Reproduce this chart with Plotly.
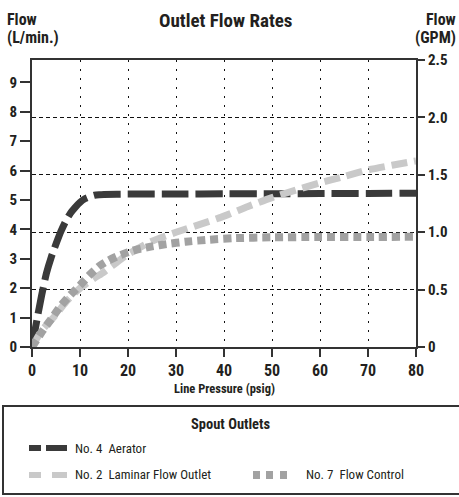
import plotly.graph_objects as go

# ---------------- data (L/min vs psig) ----------------
aerator_psig = [0, 0.5, 1, 2, 3, 4, 5, 6, 7, 8, 9, 10, 11, 12, 13, 14, 15, 20, 30, 40, 50, 60, 70, 80]
aerator_flow = [0, 0.45, 0.9, 1.75, 2.5, 3.05, 3.5, 3.92, 4.27, 4.55, 4.75, 4.92, 5.04, 5.11, 5.16, 5.18, 5.19, 5.2, 5.2, 5.21, 5.21, 5.22, 5.22, 5.23]

laminar_psig = [0, 2, 5, 7, 10, 13, 15, 18, 20, 25, 30, 35, 40, 45, 50, 55, 60, 65, 70, 75, 80]
laminar_flow = [0, 0.55, 1.1, 1.52, 2.0, 2.34, 2.55, 2.92, 3.15, 3.6, 3.9, 4.17, 4.45, 4.78, 5.08, 5.34, 5.58, 5.8, 6.02, 6.18, 6.33]

control_psig = [0, 2, 4, 6, 8, 10, 12, 14, 16, 18, 20, 22, 25, 28, 32, 37, 42, 50, 60, 70, 80]
control_flow = [0, 0.5, 0.95, 1.4, 1.77, 2.1, 2.45, 2.75, 2.95, 3.1, 3.22, 3.32, 3.42, 3.5, 3.58, 3.65, 3.7, 3.73, 3.74, 3.74, 3.75]

x_ticks = [0, 10, 20, 30, 40, 50, 60, 70, 80]
lpm_ticks = [0, 1, 2, 3, 4, 5, 6, 7, 8, 9]
gpm_ticks = [0, 0.5, 1.0, 1.5, 2.0, 2.5]
gpm_labels = ["0", "0.5", "1.0", "1.5", "2.0", "2.5"]

series_names = ["No. 4\u00a0 Aerator", "No. 2\u00a0 Laminar Flow Outlet", "No. 7\u00a0 Flow Control"]

# ---------------- styling ----------------
FONT = "Roboto Condensed, Roboto, Liberation Sans, sans-serif"
TXT = "#231f20"
DARK = "#3a3a3a"
LIGHT = "#c9c9c9"
MED = "#a2a2a2"
AX = "#333333"

W, H = 459, 497
L, R, T, B = 32, 416, 60, 347


def px(x):
    return (x - L) / (R - L)


def py(y):
    return (B - y) / (B - T)


fig = go.Figure()
fig.add_trace(go.Scatter(x=aerator_psig, y=aerator_flow, mode="lines", name=series_names[0],
                         line=dict(color=DARK, width=7, dash="27px,7px", shape="spline", smoothing=0.6)))
fig.add_trace(go.Scatter(x=laminar_psig, y=laminar_flow, mode="lines", name=series_names[1],
                         line=dict(color=LIGHT, width=7, dash="16px,7px", shape="spline", smoothing=0.6)))
fig.add_trace(go.Scatter(x=control_psig, y=control_flow, mode="lines", name=series_names[2],
                         line=dict(color=MED, width=8, dash="8px,5px", shape="spline", smoothing=0.6)))
# dummy trace to activate the right axis
fig.add_trace(go.Scatter(x=[None], y=[None], yaxis="y2", showlegend=False, hoverinfo="skip"))

fig.update_layout(
    width=W, height=H,
    margin=dict(l=L, r=W - R, t=T, b=H - B, pad=0),
    paper_bgcolor="white", plot_bgcolor="white",
    showlegend=False,
    font=dict(family=FONT, color=TXT),
    xaxis=dict(range=[0, 80], tickvals=x_ticks, ticks="outside", ticklen=8, tickwidth=1.5,
               tickcolor=AX, showline=True, linecolor=AX, linewidth=2, mirror=True,
               showgrid=True, gridcolor="#111", gridwidth=1.3, griddash="2px,7px",
               zeroline=False, automargin=False,
               tickfont=dict(size=16, weight="bold", family=FONT, color=TXT)),
    yaxis=dict(range=[0, 9.76], tickvals=lpm_ticks, ticks="outside", ticklen=10, tickwidth=1.5,
               tickcolor=AX, showline=True, linecolor=AX, linewidth=2, showgrid=False,
               zeroline=False, automargin=False,
               tickfont=dict(size=15, weight="bold", family=FONT, color=TXT)),
    yaxis2=dict(range=[0, 2.5], tickvals=gpm_ticks, ticktext=gpm_labels, overlaying="y", side="right",
                ticks="outside", ticklen=7, tickwidth=1.5, tickcolor=AX, showline=True,
                linecolor=AX, linewidth=2, showgrid=True, gridcolor="#111", gridwidth=1.2,
                griddash="3.5px,3.5px", zeroline=False, automargin=False,
                tickfont=dict(size=15, weight="bold", family=FONT, color=TXT)),
)

ann = []


def add_text(text, x, y, size, bold=True, xanchor="left"):
    ann.append(dict(text=text, x=px(x), y=py(y), xref="paper", yref="paper", showarrow=False,
                    xanchor=xanchor, yanchor="middle",
                    font=dict(size=size, family=FONT, color=TXT, weight="bold" if bold else "normal")))


add_text("Flow", 5, 19, 16)
add_text("(L/min.)", 5, 37, 16)
add_text("Outlet Flow Rates", 225, 20, 19, xanchor="center")
add_text("Flow", 458, 19, 16, xanchor="right")
add_text("(GPM)", 458, 37, 16, xanchor="right")
add_text("Line Pressure (psig)", 224, 388, 12.5, xanchor="center")
add_text("Spout Outlets", 231, 424, 14.5, xanchor="center")
add_text(series_names[0], 73, 448, 13, bold=False)
add_text(series_names[1], 73, 475, 13, bold=False)
add_text(series_names[2], 304, 475, 13, bold=False)

shapes = []


def rect(x0, y0, x1, y1, fill=None, line=None, lw=0):
    shapes.append(dict(type="rect", xref="paper", yref="paper", x0=px(x0), x1=px(x1), y0=py(y1), y1=py(y0),
                       fillcolor=fill if fill else "rgba(0,0,0,0)",
                       line=dict(color=line if line else "rgba(0,0,0,0)", width=lw)))


# legend box
rect(3, 406, 475, 494, line=AX, lw=2)
# swatches
rect(29, 445, 41, 451, fill=DARK)
rect(46, 445, 67, 451, fill=DARK)
rect(29, 472, 41, 478, fill=LIGHT)
rect(52, 472, 67, 478, fill=LIGHT)
rect(253, 471, 260, 479, fill=MED)
rect(266, 471, 273, 479, fill=MED)
rect(280, 471, 287, 479, fill=MED)

fig.update_layout(annotations=ann, shapes=shapes)
fig.write_html("out.html", config={"displayModeBar": False},
               post_script="document.body.style.margin='0';document.body.style.overflow='hidden';")
